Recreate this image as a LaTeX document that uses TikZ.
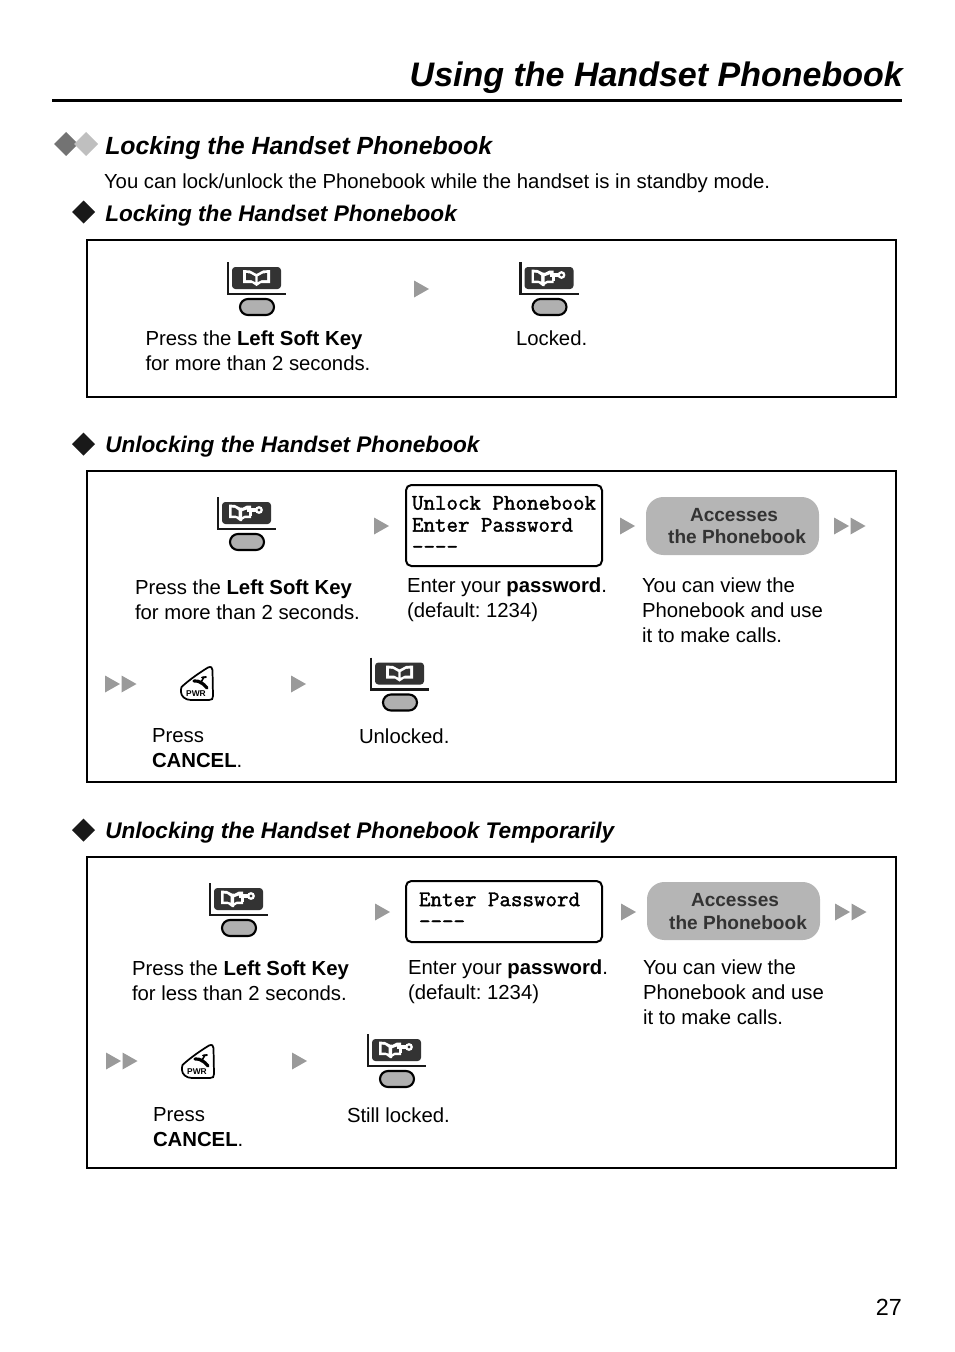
\documentclass[tikz,border=0pt]{standalone}
\usepackage{fontspec}
\setmainfont{Liberation Sans}
\newfontfamily\lcdfont{Latin Modern Mono}[FakeBold=1.6]
\definecolor{arrowgrey}{HTML}{9A9A9A}
\definecolor{pillgrey}{HTML}{B5B5B5}
\definecolor{keygrey}{HTML}{B0B0B0}
\definecolor{lcddark}{HTML}{333333}
\tikzset{
  x=0.75pt,y=-0.75pt,
  body/.style={inner sep=0pt,outer sep=0pt,anchor=north west,align=left,
    font=\fontsize{15.25}{18.75}\selectfont\frenchspacing,execute at begin node=\strut},
  heada/.style={inner sep=0pt,anchor=base west,font=\fontsize{18.65}{22}\selectfont\bfseries\itshape,text=black},
  headb/.style={inner sep=0pt,anchor=base west,font=\fontsize{16.95}{20}\selectfont\bfseries\itshape,text=black},
  panel/.style={draw=black,line width=1.6pt,fill=none},
  lcdbox/.style={draw=black,line width=1.5pt,rounded corners=4pt,fill=white},
  lcdtext/.style={inner sep=0pt,outer sep=0pt,anchor=north west,align=left,
    font=\fontsize{16.75}{16.5}\selectfont\lcdfont,execute at begin node=\strut},
  pill/.style={fill=pillgrey,draw=none,rounded corners=13pt},
  pilltext/.style={inner sep=0pt,anchor=base,font=\fontsize{14.3}{18}\selectfont\bfseries,text=lcddark},
  tri/.style={fill=arrowgrey,draw=none},
  softframe/.pic={
    \draw[line width=1.6pt,draw=black!90] (0,0) -- (0,32) -- (58,32);
    \fill[lcddark,rounded corners=2.5pt] (4,5) rectangle (53,27);
    \draw[line width=1.6pt,fill=keygrey,rounded corners=6pt] (12,37) rectangle (46,53);
  },
  bookopen/.pic={
    \fill[white] (15,8) -- (22,8.5) -- (28.5,12) -- (35,8.5) -- (42,8) -- (42,21) -- (33,21) -- (28.5,24) -- (24,21) -- (15,21) -- cycle;
    \fill[lcddark] (18,11) -- (22,11.5) -- (27.3,14.5) -- (27.3,20) -- (23,18) -- (18,18) -- cycle;
    \fill[lcddark] (39,11) -- (35,11.5) -- (29.7,14.5) -- (29.7,20) -- (34,18) -- (39,18) -- cycle;
  },
  bookkey/.pic={
    \fill[white] (11,7.5) -- (17,8) -- (22,10.5) -- (24,10.5) -- (24,24) -- (22,24) -- (18,21) -- (11,21) -- cycle;
    \fill[lcddark] (13.5,10.5) -- (17,11) -- (20.5,13.5) -- (20.5,19.5) -- (17.5,18.5) -- (13.5,18.5) -- cycle;
    \fill[white] (22,24) -- (27,21) -- (33,21) -- (33,18.5) -- (27,18.5) -- (23,20.5) -- cycle;
    \fill[white] (22,12) -- (29,8.5) -- (33,8.5) -- (33,11) -- (26,13.5) -- (22,15) -- cycle;
    \fill[white] (29,11) rectangle (38,15);
    \fill[white] (31,15) rectangle (34,19);
    \draw[white,line width=1.7pt] (41,13) circle[radius=2.7];
  },
  pwrkey/.pic={
    \draw[line width=1.3pt,fill=white]
      (0.5,20) .. controls (8,13) and (18,6) .. (27,0.5)
      .. controls (30,-0.8) and (31.5,0.5) .. (31.5,3)
      -- (32,29) .. controls (32,32) and (31,33) .. (28,33)
      -- (10,33) .. controls (4,33) and (0,29) .. (0,25) .. controls (0,23) and (0,21) .. (0.5,20) -- cycle;
    \draw[line width=2.4pt,line cap=round] (13,14) .. controls (18,13.5) and (22,16) .. (26,21);
    \draw[line width=1.2pt] (19,17) -- (23,10);
    \draw[line width=1.4pt,line cap=round] (21,10.5) -- (25,10);
    \node[inner sep=0pt,font=\fontsize{6.3}{7}\selectfont\bfseries] at (15,27) {PWR};
  },
}
\newcommand{\singletri}[2]{\fill[tri] (#1,#2-8.5) -- (#1+15,#2) -- (#1,#2+8.5) -- cycle;}
\newcommand{\doubletri}[2]{\singletri{#1}{#2}\singletri{#1+16.5}{#2}}
\begin{document}
\begin{tikzpicture}
\useasboundingbox (0,0) rectangle (954,1352);
% title
\node[inner sep=0pt,anchor=base east,font=\fontsize{25.5}{30}\selectfont\bfseries\itshape] (title) at (903,87) {Using the Handset Phonebook};
\coordinate (ruleL) at (52,100.5);
\coordinate (ruleR) at (902,100.5);
\draw[line width=2.2pt] (ruleL) -- (ruleR);
% section headings
\fill[black!55] (66,132) -- (78,144) -- (66,156) -- (54,144) -- cycle;
\fill[black!25] (86,132) -- (98,144) -- (86,156) -- (74,144) -- cycle;
\node[heada] (h1) at (105,155) {Locking the Handset Phonebook};
\node[body] (intro) at (104,170.5) {You can lock/unlock the Phonebook while the handset is in standby mode.};
\fill[black!90] (83.5,200.5) -- (95,212) -- (83.5,223.5) -- (72,212) -- cycle;
\node[headb] (h2) at (105,221) {Locking the Handset Phonebook};
\fill[black!90] (83.5,432.5) -- (95,444) -- (83.5,455.5) -- (72,444) -- cycle;
\node[headb] (h3) at (105,452) {Unlocking the Handset Phonebook};
\fill[black!90] (83.5,818.5) -- (95,830) -- (83.5,841.5) -- (72,830) -- cycle;
\node[headb] (h4) at (105,838) {Unlocking the Handset Phonebook Temporarily};
% panels
\draw[panel] (87,240) rectangle (896,397);
\draw[panel] (87,471) rectangle (896,782);
\draw[panel] (87,857) rectangle (896,1168);
% panel 1
\pic at (228,262) {softframe};
\pic at (228,262) {bookopen};
\singletri{414}{289}
\pic at (520.5,262) {softframe};
\pic at (520.5,262) {bookkey};
\node[body] (t1a) at (145.5,331) {Press the \textbf{Left Soft Key}\\for more than 2 seconds.};
\node[body] (t1b) at (516,327.5) {Locked.};
% panel 2
\pic at (218,497) {softframe};
\pic at (218,497) {bookkey};
\singletri{374}{526}
\draw[lcdbox] (406,485) rectangle (602,566);
\node[lcdtext] (lcd2) at (412,496) {Unlock Phonebook\\Enter Password\\----};
\singletri{620}{526}
\fill[pill] (646,497) rectangle (819,555);
\node[pilltext] (p2a) at (734,521) {Accesses};
\node[pilltext] (p2b) at (737,543) {the Phonebook};
\doubletri{834}{526}
\node[body] (t2a) at (135,579.5) {Press the \textbf{Left Soft Key}\\for more than 2 seconds.};
\node[body] (t2b) at (407,577.5) {Enter your \textbf{password}.\\(default: 1234)};
\node[body] (t2c) at (642,577.5) {You can view the\\Phonebook and use\\it to make calls.};
\doubletri{105}{684}
\pic at (181,667) {pwrkey};
\singletri{291}{684}
\pic at (371,657.5) {softframe};
\pic at (371,657.5) {bookopen};
\node[body] (t2d) at (152,728.5) {Press\\\textbf{CANCEL}.};
\node[body] (t2e) at (359,725.5) {Unlocked.};
% panel 3
\pic at (210,883) {softframe};
\pic at (210,883) {bookkey};
\singletri{375}{912}
\draw[lcdbox] (406,881) rectangle (602,942);
\node[lcdtext] (lcd3) at (419,892.5) {Enter Password\\----};
\singletri{621}{912}
\fill[pill] (647,882) rectangle (820,940);
\node[pilltext] (p3a) at (735,906) {Accesses};
\node[pilltext] (p3b) at (738,929) {the Phonebook};
\doubletri{835}{912}
\node[body] (t3a) at (132,960.5) {Press the \textbf{Left Soft Key}\\for less than 2 seconds.};
\node[body] (t3b) at (408,960) {Enter your \textbf{password}.\\(default: 1234)};
\node[body] (t3c) at (643,959.5) {You can view the\\Phonebook and use\\it to make calls.};
\doubletri{106}{1061}
\pic at (182,1045) {pwrkey};
\singletri{292}{1061}
\pic at (368,1034) {softframe};
\pic at (368,1034) {bookkey};
\node[body] (t3d) at (153,1107.5) {Press\\\textbf{CANCEL}.};
\node[body] (t3e) at (347,1104.5) {Still locked.};
% page number
\node[inner sep=0pt,anchor=base east,font=\fontsize{17.5}{20}\selectfont] (pageno) at (902,1315) {27};
\end{tikzpicture}
\end{document}
